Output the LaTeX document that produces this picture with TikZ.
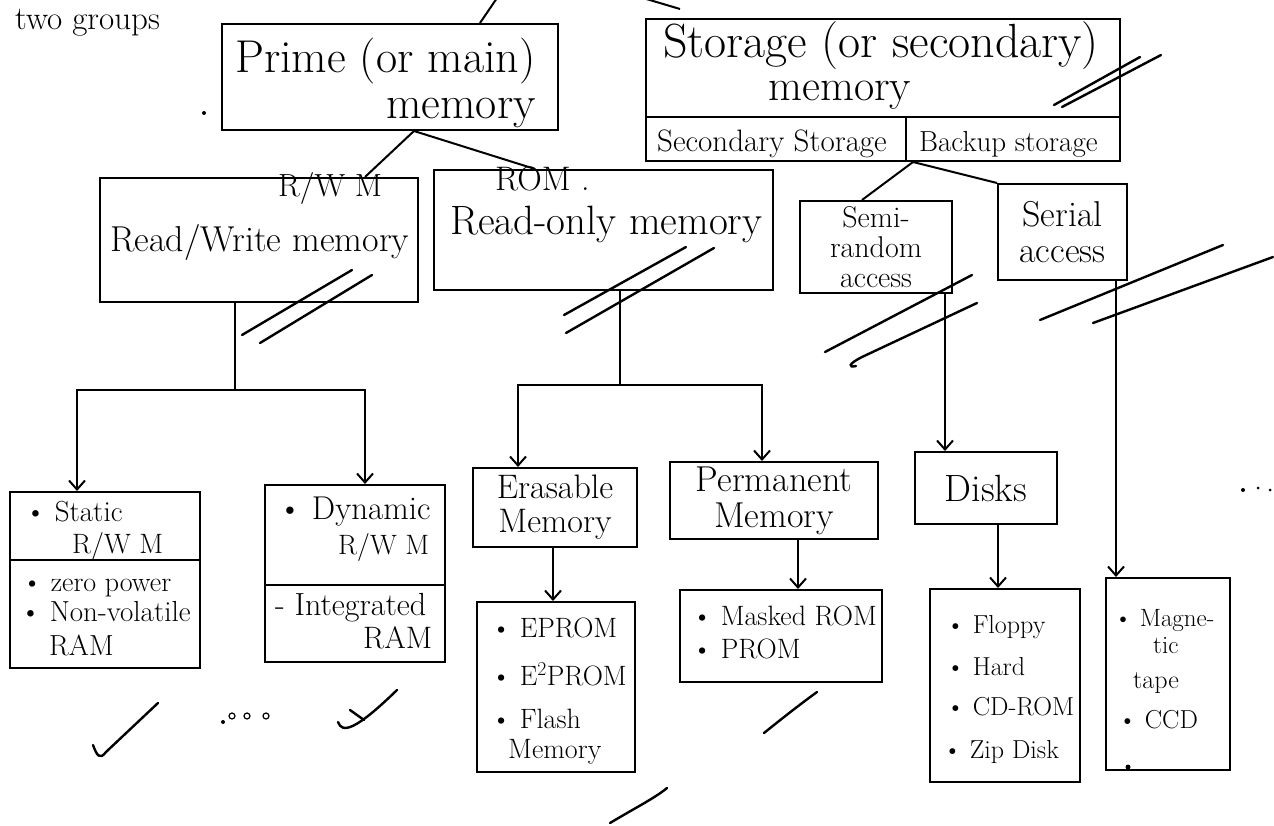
\documentclass[tikz,border=0pt]{standalone}
\usetikzlibrary{arrows.meta}
\newcommand\fsz[2]{\fontsize{#1}{#2}\selectfont}
\begin{document}
\begin{tikzpicture}[x=1pt,y=-1pt,
  box/.style={draw,line width=2pt,inner sep=0pt},
  lbl/.style={inner sep=0pt,anchor=base west},
  conn/.style={line width=2pt},
  arr/.style={line width=2pt,-{Straight Barb[length=9pt,width=16pt]}},
  slashmark/.style={line width=2.4pt,line cap=round},
  tick/.style={line width=2.4pt,line cap=round,line join=round},
  speck/.style={fill=black}]
\fill[white] (0,0) rectangle (1274,826);
\useasboundingbox (0,0) rectangle (1274,826);

% ---------- boxes ----------
\node[box,minimum width=336pt,minimum height=106pt] (prime) at (390,77) {};
\node[box,minimum width=474pt,minimum height=142pt] (storage) at (883,90) {};
\node[box,minimum width=318pt,minimum height=124pt] (rw) at (259,240) {};
\node[box,minimum width=339pt,minimum height=120pt] (rom) at (603.5,230) {};
\node[box,minimum width=152pt,minimum height=92pt,align=center,font={\fsz{30}{30}}] (semi) at (876,247)
  {Semi-\\random\\access};
\node[box,minimum width=129pt,minimum height=96pt,align=center,font={\fsz{36}{36}}] (serial) at (1062.5,232)
  {Serial\\access};
\node[box,minimum width=190pt,minimum height=176pt] (static) at (105,580) {};
\node[box,minimum width=180pt,minimum height=177pt] (dynamic) at (355,573.5) {};
\node[box,minimum width=164pt,minimum height=79pt,align=center,font={\fsz{34}{34}}] (erasable) at (555,507.5)
  {Erasable\\Memory};
\node[box,minimum width=208pt,minimum height=77pt,align=center,font={\fsz{36}{36}}] (permanent) at (774,500.5)
  {Permanent\\Memory};
\node[box,minimum width=142pt,minimum height=72pt,font={\fsz{38}{38}}] (disks) at (986,488) {Disks};
\node[box,minimum width=158pt,minimum height=170pt] (eprom) at (556,687) {};
\node[box,minimum width=202pt,minimum height=92pt] (masked) at (781,636) {};
\node[box,minimum width=150pt,minimum height=193pt] (disklist) at (1005,685.5) {};
\node[box,minimum width=124pt,minimum height=192pt] (magnetic) at (1168,674) {};

% ---------- dividers inside boxes ----------
\draw[conn] ([yshift=-27pt]storage.west) -- ([yshift=-27pt]storage.east);
\draw[conn] ([xshift=23pt]storage.south) -- ([xshift=23pt,yshift=44pt]storage.south);
\draw[conn] ([yshift=20pt]static.west) -- ([yshift=20pt]static.east);
\draw[conn] ([yshift=-11.5pt]dynamic.west) -- ([yshift=-11.5pt]dynamic.east);

% ---------- texts ----------
\node[lbl] (tg) at (15,30) {\fsz{33}{33}two groups};
\node[lbl] (primeA) at (235,73) {\fsz{46}{46}Prime (or main)};
\node[lbl] (primeB) at (386,119) {\fsz{46}{46}memory};
\node[lbl] (storA) at (663,58) {\fsz{48}{48}Storage (or secondary)};
\node[lbl] (storB) at (768,101) {\fsz{44}{44}memory};
\node[lbl] (storC) at (657,152) {\fsz{31}{31}Secondary Storage};
\node[lbl] (storD) at (919,152) {\fsz{29}{29}Backup storage};
\node[lbl] (rwA) at (278,197) {\fsz{32}{32}R/W M};
\node[lbl] (rwB) at (110,252) {\fsz{36}{36}Read/Write memory};
\node[lbl] (romA) at (495,191) {\fsz{34}{34}ROM .};
\node[lbl] (romB) at (450,235) {\fsz{41}{41}Read-only memory};
\node[lbl] (stA) at (25,521) {\fsz{29}{29}\textbullet\ Static};
\node[lbl] (stB) at (72,553) {\fsz{28}{28}R/W M};
\node[lbl] (stC) at (22,591) {\fsz{28}{28}\textbullet\ zero power};
\node[lbl] (stD) at (20,621) {\fsz{29}{29}\textbullet\ Non-volatile};
\node[lbl] (stE) at (49,655) {\fsz{29}{29}RAM};
\node[lbl] (dyA) at (278,519) {\fsz{33}{33}\textbullet\ Dynamic};
\node[lbl] (dyB) at (338,554) {\fsz{28}{28}R/W M};
\node[lbl] (dyC) at (275,615) {\fsz{32}{32}- Integrated};
\node[lbl] (dyD) at (363,648) {\fsz{31}{31}RAM};
\node[lbl] (epA) at (491,637) {\fsz{28}{28}\textbullet\ EPROM};
\node[lbl] (epB) at (491,685) {\fsz{28}{28}\textbullet\ E\textsuperscript{2}PROM};
\node[lbl] (epC) at (491,728) {\fsz{28}{28}\textbullet\ Flash};
\node[lbl] (epD) at (508,758) {\fsz{28}{28}Memory};
\node[lbl] (maA) at (692,625) {\fsz{28}{28}\textbullet\ Masked ROM};
\node[lbl] (maB) at (692,658) {\fsz{28}{28}\textbullet\ PROM};
\node[lbl] (diA) at (946,633) {\fsz{26}{26}\textbullet\ Floppy};
\node[lbl] (diB) at (946,675) {\fsz{26}{26}\textbullet\ Hard};
\node[lbl] (diC) at (946,715) {\fsz{26}{26}\textbullet\ CD-ROM};
\node[lbl] (diD) at (943,758) {\fsz{26}{26}\textbullet\ Zip Disk};
\node[lbl] (mgA) at (1114,626) {\fsz{25}{25}\textbullet\ Magne-};
\node[lbl] (mgB) at (1153,653) {\fsz{25}{25}tic};
\node[lbl] (mgC) at (1133,688) {\fsz{26}{26}tape};
\node[lbl] (mgD) at (1118,728) {\fsz{26}{26}\textbullet\ CCD};

% ---------- helper coordinates ----------
\coordinate (topA) at (497,-2);
\coordinate (topB) at (643,-2);
\coordinate (topC) at (680,9);
\coordinate (px) at (414,0);
\coordinate (rwx) at (365,0);
\coordinate (romx) at (535,0);
\coordinate (stx) at (913,0);
\coordinate (semx) at (862,0);
\coordinate (rwj) at (235,390);
\coordinate (stax) at (77,0);
\coordinate (dynx) at (365,0);
\coordinate (romj) at (620,385);
\coordinate (erx) at (518,0);
\coordinate (pex) at (762,0);
\coordinate (er2x) at (553,0);
\coordinate (pe2x) at (798,0);
\coordinate (sdx) at (945,0);
\coordinate (dlx) at (998,0);
\coordinate (mgx) at (1116,0);
\coordinate (tpx) at (480,0);

% ---------- connectors ----------
\draw[conn] (prime.north -| tpx) -- (topA);
\draw[conn] (topB) -- (topC);
\draw[conn] (prime.south -| px) -- (rw.north -| rwx);
\draw[conn] (prime.south -| px) -- (rom.north -| romx);
\draw[conn] (storage.south -| stx) -- (semi.north -| semx);
\draw[conn] (storage.south -| stx) -- (serial.north west);
\draw[conn] (rw.south -| rwj) -- (rwj);
\draw[arr] (rwj) -| (static.north -| stax);
\draw[arr] (rwj) -| (dynamic.north -| dynx);
\draw[conn] (rom.south -| romj) -- (romj);
\draw[arr] (romj) -| (erasable.north -| erx);
\draw[arr] (romj) -| (permanent.north -| pex);
\draw[arr] (erasable.south -| er2x) -- (eprom.north -| er2x);
\draw[arr] (permanent.south -| pe2x) -- (masked.north -| pe2x);
\draw[arr] (semi.south -| sdx) -- (disks.north -| sdx);
\draw[arr] (disks.south -| dlx) -- (disklist.north -| dlx);
\draw[arr] (serial.south -| mgx) -- (magnetic.north -| mgx);

% ---------- hand marks ----------
\draw[slashmark] (1054,105) -- (1140,57);
\draw[slashmark] (1062,107) -- (1161,55);
\draw[slashmark] (242,335) -- (352,270);
\draw[slashmark] (260,343) -- (372,275);
\draw[slashmark] (564,315) -- (686,247);
\draw[slashmark] (566,333) -- (714,248);
\draw[slashmark] (825,352) -- (972,275);
\draw[slashmark] (977,303) -- (862,357) .. controls (848,364) and (848,368) .. (856,366);
\draw[slashmark] (1040,320) -- (1223,245);
\draw[slashmark] (1093,323) -- (1273,257);
\draw[tick] (93,745) .. controls (97,756) and (100,760) .. (106,752) -- (158,703);
\draw[tick] (338,722) .. controls (342,734) and (356,730) .. (397,690);
\draw[tick] (350,710) -- (364,720);
\draw[tick] (764,733) .. controls (790,712) and (806,700) .. (817,692);
\draw[tick] (610,823) .. controls (635,808) and (655,798) .. (667,788);
\fill[speck] (204,113) circle (2);
\fill[speck] (223,722) circle (2);
\draw[line width=1.2pt] (232,716) circle (3);
\draw[line width=1.2pt] (247,716) circle (3);
\draw[line width=1.2pt] (266,716) circle (3);
\fill[speck] (1128,767) circle (2.5);
\fill[speck] (1243,490) circle (2);
\fill[speck] (1258,488) circle (1.5);
\fill[speck] (1270,490) circle (1.5);
\end{tikzpicture}
\end{document}
